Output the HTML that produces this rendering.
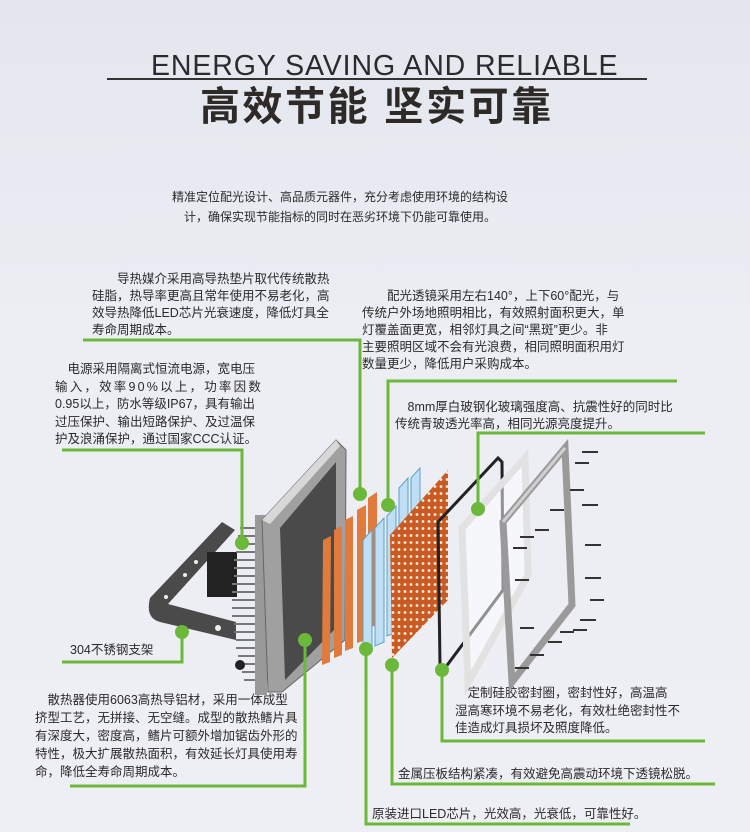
<!DOCTYPE html>
<html><head><meta charset="utf-8"><style>
*{margin:0;padding:0}
body{width:750px;height:832px;position:relative;overflow:hidden;background:linear-gradient(180deg,#e4e6ee 0%,#eceef4 40%,#eeeff4 100%);font-family:"Liberation Sans","Noto Sans CJK SC",sans-serif;color:#2a2a2a}
.t{position:absolute;font-size:12.5px;line-height:17px;white-space:nowrap}
</style></head><body>
<div class="t" style="left:151px;top:50px;font-size:28.5px;line-height:32px;color:#2b2b2b;letter-spacing:0.9px">ENERGY SAVING AND RELIABLE</div>
<div style="position:absolute;left:107px;top:78px;width:540px;height:2px;background:#333"></div>
<div class="t" style="left:200px;top:83px;font-size:40px;line-height:48px;font-weight:bold;color:#2e2a28;letter-spacing:2.5px">高效节能 坚实可靠</div>
<div class="t" style="left:172px;top:189px;font-size:12px">精准定位配光设计、高品质元器件，充分考虑使用环境的结构设</div>
<div class="t" style="left:184px;top:209px;font-size:12px">计，确保实现节能指标的同时在恶劣环境下仍能可靠使用。</div>

<div class="t" style="left:92px;top:271px;line-height:17px">　　导热媒介采用高导热垫片取代传统散热<br>硅脂，热导率更高且常年使用不易老化，高<br>效导热降低LED芯片光衰速度，降低灯具全<br>寿命周期成本。</div>
<div class="t" style="left:55px;top:361px;line-height:17.5px">　电源采用隔离式恒流电源，宽电压<br><span style="letter-spacing:2.2px">输入，效率90%以上，功率因数</span><br>0.95以上，防水等级IP67，具有输出<br>过压保护、输出短路保护、及过温保<br>护及浪涌保护，通过国家CCC认证。</div>
<div class="t" style="left:362px;top:288px;line-height:17px">　　配光透镜采用左右140°，上下60°配光，与<br>传统户外场地照明相比，有效照射面积更大，单<br>灯覆盖面更宽，相邻灯具之间“黑斑”更少。非<br>主要照明区域不会有光浪费，相同照明面积用灯<br>数量更少，降低用户采购成本。</div>
<div class="t" style="left:395px;top:399px;line-height:17px">　8mm厚白玻钢化玻璃强度高、抗震性好的同时比<br>传统青玻透光率高，相同光源亮度提升。</div>
<div class="t" style="left:70px;top:642px">304不锈钢支架</div>
<div class="t" style="left:35px;top:691px;line-height:18px">　散热器使用6063高热导铝材，采用一体成型<br>挤型工艺，无拼接、无空缝。成型的散热鳍片具<br>有深度大，密度高，鳍片可额外增加锯齿外形的<br>特性，极大扩展散热面积，有效延长灯具使用寿<br>命，降低全寿命周期成本。</div>
<div class="t" style="left:455px;top:685px;line-height:17.5px">　定制硅胶密封圈，密封性好，高温高<br>湿高寒环境不易老化，有效杜绝密封性不<br>佳造成灯具损坏及照度降低。</div>
<div class="t" style="left:398px;top:766px">金属压板结构紧凑，有效避免高震动环境下透镜松脱。</div>
<div class="t" style="left:372px;top:806px">原装进口LED芯片，光效高，光衰低，可靠性好。</div>

<svg width="750" height="832" style="position:absolute;left:0;top:0">
<path d="M150,598 L222,522 L235,530 L168,604 L236,622 L236,640 L160,622 Q145,618 150,598Z" fill="#4a4a4a"/>
<circle cx="185" cy="575" r="2" fill="#eee"/><circle cx="196" cy="562" r="2" fill="#eee"/><circle cx="166" cy="597" r="2" fill="#eee"/><circle cx="218" cy="628" r="3" fill="#eee"/>
<rect x="207" y="552" width="30" height="45" fill="#222"/>
<g stroke="#777" stroke-width="2">
<path d="M240,528h25M238,536h27M236,544h29M236,552h29M234,560h31M234,568h31M234,576h31M232,584h33M232,592h33M232,600h33M232,608h33M232,616h33M234,624h31M234,632h31M236,640h29M236,648h29M238,656h27M240,664h25M242,672h23M244,680h21"/>
</g>
<rect x="255" y="515" width="12" height="180" fill="#999"/>
<path d="M262,520 L336,440 L346,450 L345,640 L282,692 L268,692Z" fill="#a0a0a0" stroke="#666"/>
<path d="M280,528 L336,462 L336,628 L285,680Z" fill="#4a4a4a"/>
<path d="M262,520 L336,440 L340,446 L270,524Z" fill="#d8d8d8"/>
<circle cx="240" cy="665" r="5" fill="#222"/>
<g fill="#e07b3c">
<path d="M323,540 L331,536 L330,662 L322,665Z"/><path d="M334,530 L342,526 L342,655 L334,658Z"/><path d="M345,520 L353,516 L353,648 L345,651Z"/><path d="M357,510 L366,505 L366,640 L357,643Z"/><path d="M368,498 L377,492 L377,625 L368,628Z"/>
</g>
<g fill="#bfe0f4" stroke="#5aa0d0">
<path d="M363,540 L372,530 L372,650 L363,655Z"/><path d="M375,528 L384,518 L384,642 L375,646Z"/><path d="M387,516 L396,506 L396,632 L387,636Z"/><path d="M399,488 L408,478 L408,610 L399,614Z"/><path d="M411,478 L420,468 L420,600 L411,604Z"/>
</g>
<defs><pattern id="d" width="6" height="7" patternUnits="userSpaceOnUse"><rect width="6" height="7" fill="#c85a22"/><circle cx="3" cy="3.5" r="1.4" fill="#f6e8dc"/></pattern></defs>
<path d="M390,535 L448,470 L448,600 L392,658Z" fill="url(#d)"/>
<path d="M438,522 L498,458 L502,462 L503,590 L445,668 L440,665Z" fill="none" stroke="#222" stroke-width="3"/>
<path d="M462,528 L525,458 L528,575 L468,683Z" fill="rgba(255,255,255,0.5)" stroke="#e2e2e2" stroke-width="7"/>
<path d="M503,522 L565,448 L572,605 L512,682Z" fill="none" stroke="#9a9a9a" stroke-width="7"/>
<path d="M503,522 L565,448" stroke="#d0d0d0" stroke-width="3"/>
<g stroke="#333" stroke-width="2">
<path d="M582,452h16M575,463h14M570,490h14M582,505h16M550,510h14M535,530h14M520,537h14M513,548h14M585,545h16M515,580h14M585,578h16M580,620h16M520,628h14M573,630h14M560,632h14M548,642h14M530,655h14M515,668h14M590,600h14"/>
</g>
<g stroke="#6cb83a" stroke-width="3" fill="none">
<path d="M83,340 H360 V494"/>
<path d="M62,450 H242 V543"/>
<path d="M677,381 H388 V505"/>
<path d="M705,433 H478 V509"/>
<path d="M62,662 H182 V632"/>
<path d="M70,786 H305 V640"/>
<path d="M705,741 H442 V670"/>
<path d="M715,784 H392 V665"/>
<path d="M630,824 H366 V649"/>
</g>
<g fill="#6cb83a">
<circle cx="360" cy="494" r="7"/><circle cx="242" cy="543" r="7"/><circle cx="388" cy="505" r="7"/><circle cx="478" cy="509" r="7"/><circle cx="182" cy="632" r="7"/><circle cx="305" cy="640" r="7"/><circle cx="442" cy="670" r="7"/><circle cx="392" cy="665" r="7"/><circle cx="366" cy="649" r="7"/>
</g>
</svg>
</body></html>
